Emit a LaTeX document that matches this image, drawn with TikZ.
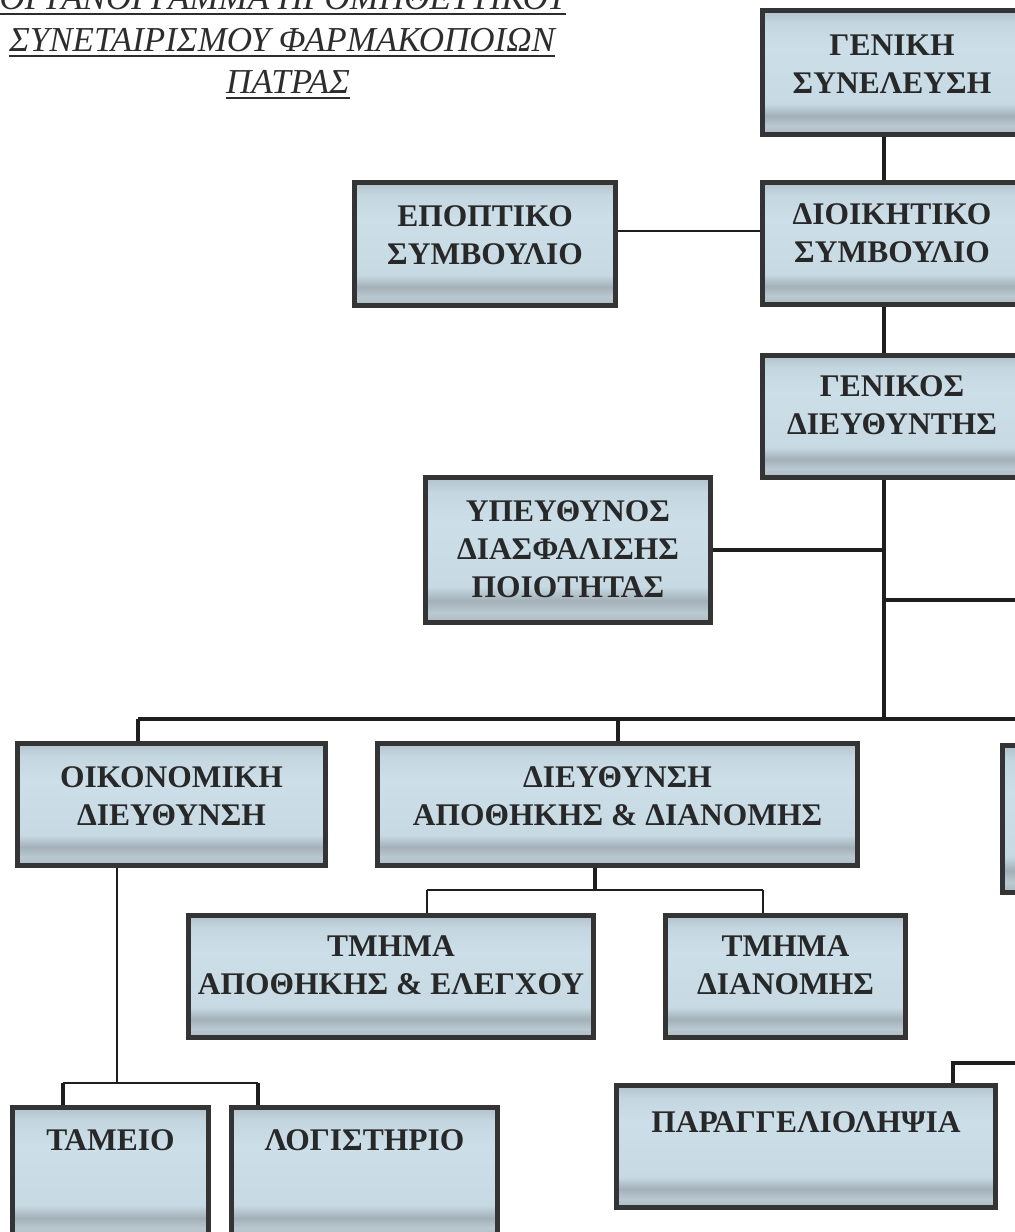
\documentclass[tikz,border=0pt]{standalone}
\usepackage{fontspec}
\setmainfont{Liberation Serif}
\usetikzlibrary{calc}
\definecolor{bordc}{RGB}{52,52,52}
\definecolor{txtc}{RGB}{40,40,40}
\definecolor{linec}{RGB}{30,30,30}
\definecolor{ttlc}{RGB}{45,45,45}
\definecolor{sa}{RGB}{178,194,203}
\definecolor{sb}{RGB}{196,214,224}
\definecolor{sc}{RGB}{204,223,233}
\definecolor{sd}{RGB}{199,218,228}
\definecolor{se}{RGB}{163,176,183}
\definecolor{sf}{RGB}{186,201,209}
\definecolor{sg}{RGB}{172,185,192}
\pgfdeclareverticalshading{boxshade}{100bp}{color(0bp)=(sg); color(25bp)=(sg); color(28.5bp)=(sf); color(32.5bp)=(se); color(37.5bp)=(sd); color(60bp)=(sc); color(70bp)=(sb); color(75bp)=(sa); color(100bp)=(sa)}
\pgfdeclarelayer{bg}
\pgfsetlayers{bg,main}
\tikzset{
  orgbox/.style 2 args={draw=bordc, line width=5pt, shading=boxshade, rectangle,
    inner sep=0pt, outer sep=0pt, minimum width=#1pt, minimum height=#2pt},
  orgtext/.style={font=\bfseries\fontsize{31.5}{38}\selectfont, text=txtc,
    align=center, inner sep=0pt},
  conn/.style={draw=linec, line width=3.2pt},
  thinconn/.style={draw=linec, line width=2pt},
  hairconn/.style={draw=linec, line width=1.6pt},
  ttl/.style={font=\itshape\fontsize{35}{42}\selectfont, text=ttlc, inner sep=0pt, anchor=base},
  uline/.style={draw=ttlc, line width=1.6pt}
}
\begin{document}
\begin{tikzpicture}[x=1pt,y=-1pt]
\useasboundingbox (0,0) rectangle (1015,1232);
\clip (0,0) rectangle (1015,1232);

% title (first line cut off at the top edge, as in the reference)
\node[ttl] (t1) at (283,9) {ΟΡΓΑΝΟΓΡΑΜΜΑ ΠΡΟΜΗΘΕΥΤΙΚΟΥ};
\node[ttl] (t2) at (282,51) {ΣΥΝΕΤΑΙΡΙΣΜΟΥ ΦΑΡΜΑΚΟΠΟΙΩΝ};
\node[ttl] (t3) at (288,93) {ΠΑΤΡΑΣ};
\draw[uline] ($(t1.base west)+(0,5)$) -- ($(t1.base east)+(0,5)$);
\draw[uline] ($(t2.base west)+(0,5)$) -- ($(t2.base east)+(0,5)$);
\draw[uline] ($(t3.base west)+(0,5)$) -- ($(t3.base east)+(0,5)$);

% boxes
\node[orgbox={259}{124}] (ga)  at (892,72.5) {};
\node[orgbox={259}{122}] (ds)  at (892,243.5) {};
\node[orgbox={259}{122}] (gd)  at (892,416.5) {};
\node[orgbox={261}{123}] (es)  at (485,244) {};
\node[orgbox={285}{145}] (ydp) at (568,550) {};
\node[orgbox={308}{122}] (od)  at (171.5,804.5) {};
\node[orgbox={480}{122}] (dad) at (617.5,804.5) {};
\node[orgbox={295}{147}] (rp)  at (1150,819) {};
\node[orgbox={405}{122}] (tae) at (391,976.5) {};
\node[orgbox={240}{122}] (td)  at (785.5,976.5) {};
\node[orgbox={196}{130}] (tam) at (110.5,1172.5) {};
\node[orgbox={266}{130}] (log) at (364.5,1172.5) {};
\node[orgbox={379}{122}] (par) at (806,1146.5) {};

% texts
\node[orgtext] (gat)  at (892,64) {ΓΕΝΙΚΗ\\ΣΥΝΕΛΕΥΣΗ};
\node[orgtext] (dst)  at (892,233) {ΔΙΟΙΚΗΤΙΚΟ\\ΣΥΜΒΟΥΛΙΟ};
\node[orgtext] (gdt)  at (892,405) {ΓΕΝΙΚΟΣ\\ΔΙΕΥΘΥΝΤΗΣ};
\node[orgtext] (est)  at (485,235) {ΕΠΟΠΤΙΚΟ\\ΣΥΜΒΟΥΛΙΟ};
\node[orgtext] (ydpt) at (568,549) {ΥΠΕΥΘΥΝΟΣ\\ΔΙΑΣΦΑΛΙΣΗΣ\\ΠΟΙΟΤΗΤΑΣ};
\node[orgtext] (odt)  at (171.5,796) {ΟΙΚΟΝΟΜΙΚΗ\\ΔΙΕΥΘΥΝΣΗ};
\node[orgtext] (dadt) at (617.5,796) {ΔΙΕΥΘΥΝΣΗ\\ΑΠΟΘΗΚΗΣ \& ΔΙΑΝΟΜΗΣ};
\node[orgtext] (taet) at (391,965) {ΤΜΗΜΑ\\ΑΠΟΘΗΚΗΣ \& ΕΛΕΓΧΟΥ};
\node[orgtext] (tdt)  at (785.5,965) {ΤΜΗΜΑ\\ΔΙΑΝΟΜΗΣ};
\node[orgtext] (tamt) at (110.5,1140) {ΤΑΜΕΙΟ};
\node[orgtext] (logt) at (364.5,1140) {ΛΟΓΙΣΤΗΡΙΟ};
\node[orgtext] (part) at (806,1122) {ΠΑΡΑΓΓΕΛΙΟΛΗΨΙΑ};

% connector coordinates
\coordinate (sp) at (884,0);
\coordinate (busS) at (884,719);
\coordinate (busL) at (138,719);
\coordinate (busM) at (618,719);
\coordinate (busE) at (1015,719);
\coordinate (y231) at (0,231);
\coordinate (r600) at (1015,600);
\coordinate (ab) at (595,890);
\coordinate (abL) at (427,890);
\coordinate (abR) at (763,890);
\coordinate (ob) at (117,1083);
\coordinate (obL) at (63,1083);
\coordinate (obR) at (258,1083);
\coordinate (pc) at (953,1063);
\coordinate (pe) at (1015,1063);

\begin{pgfonlayer}{bg}
\draw[conn] (ga.south -| sp) -- (ds.north -| sp);
\draw[conn] (ds.south -| sp) -- (gd.north -| sp);
\draw[hairconn] (es.east |- y231) -- (ds.west |- y231);
\draw[conn] (gd.south -| sp) -- (busS);
\draw[conn] (ydp.east) -- (ydp.east -| sp);
\draw[conn] (r600 -| sp) -- (r600);
\draw[conn] (busL) -- (busE);
\draw[conn] (busL) -- (od.north -| busL);
\draw[conn] (busM) -- (dad.north -| busM);
\draw[conn] (dad.south -| ab) -- (ab);
\draw[thinconn] (abL) -- (abR);
\draw[thinconn] (abL) -- (tae.north -| abL);
\draw[thinconn] (abR) -- (td.north -| abR);
\draw[hairconn] (od.south -| ob) -- (ob);
\draw[thinconn] (obL) -- (obR);
\draw[conn] (obL) -- (tam.north -| obL);
\draw[conn] (obR) -- (log.north -| obR);
\draw[conn] (par.north -| pc) -- (pc) -- (pe);
\end{pgfonlayer}
\end{tikzpicture}
\end{document}
